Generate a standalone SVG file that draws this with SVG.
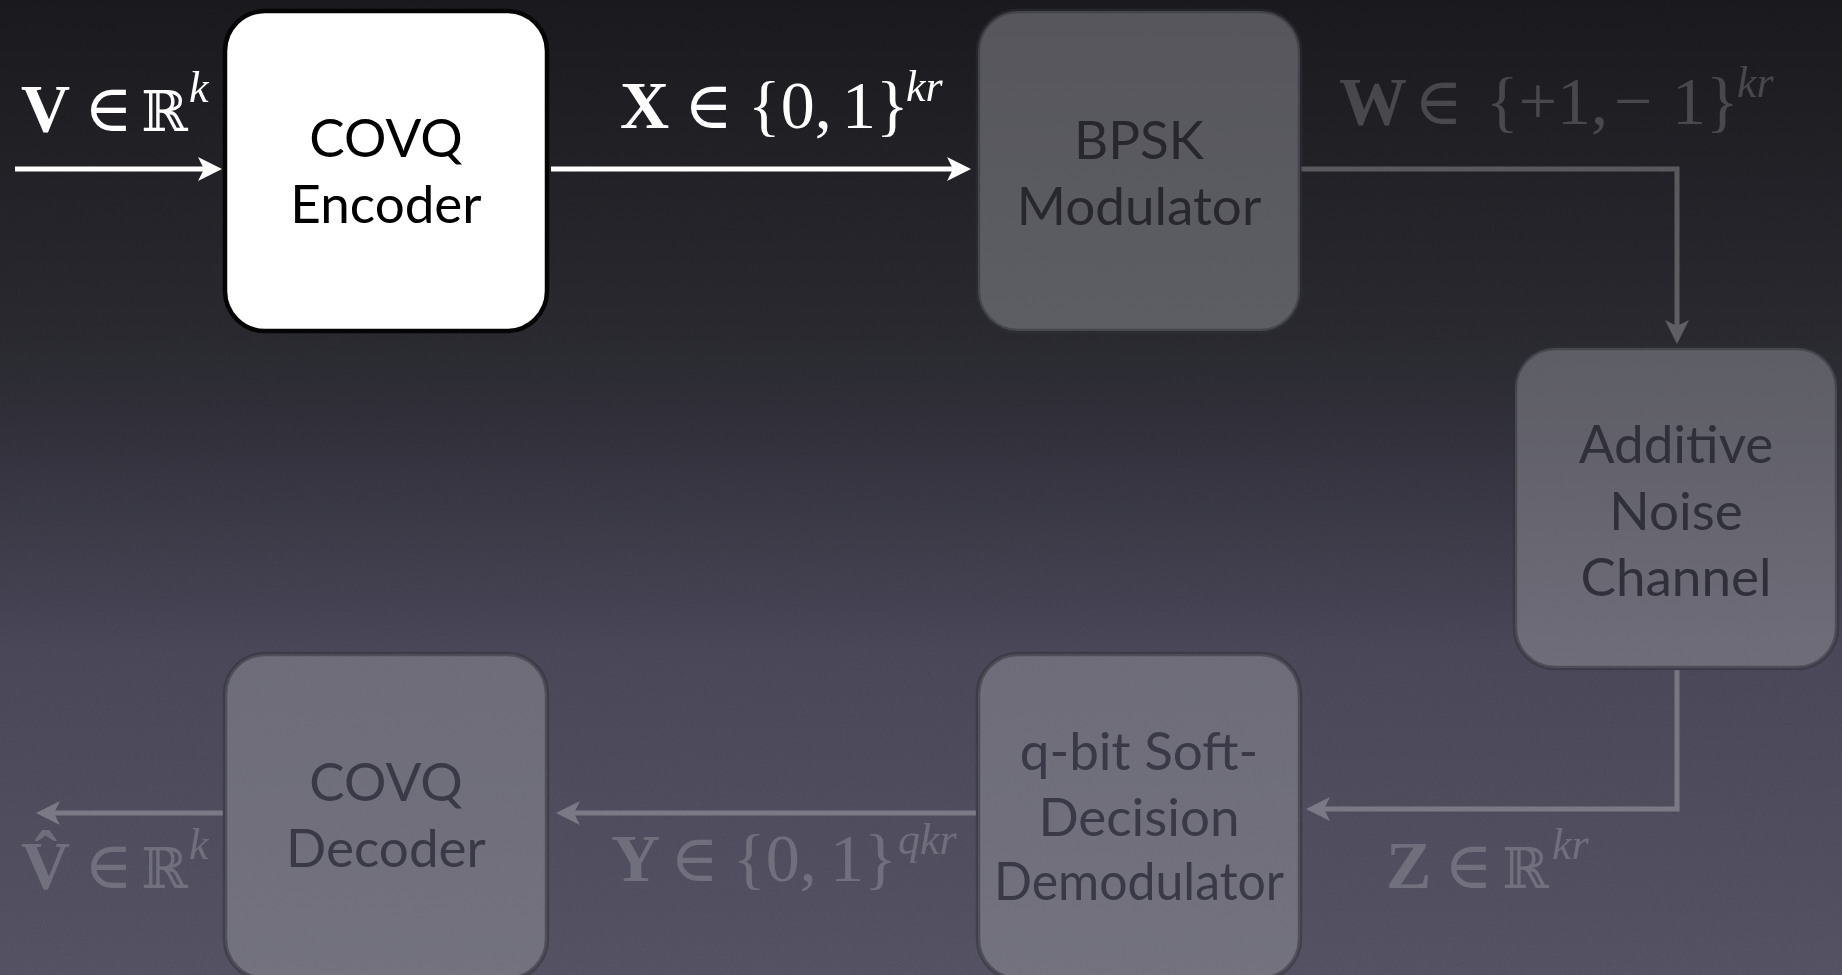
<svg xmlns="http://www.w3.org/2000/svg" width="1842" height="975" viewBox="0 0 1842 975">
  <style>
    .node-text { font-family: "Lato", "Open Sans", sans-serif; font-size: 53px; text-anchor: middle; }
    .math { font-family: "Liberation Serif", "DejaVu Serif", serif; font-size: 68px; }
    .bold { font-weight: bold; }
    .sup { font-style: italic; font-size: 44px; }
    .elem { font-family: "DejaVu Sans", "DejaVu Serif", sans-serif; font-weight: 200; font-size: 66px; }
    .reals { font-family: "DejaVu Serif", serif; font-size: 56px; }
    .box-dim { fill: #929299; fill-opacity: 0.5; stroke: #303038; stroke-opacity: 0.5; stroke-width: 4.5; }
    .wire { fill: none; stroke-width: 5; stroke-linejoin: miter; }
  </style>
  <defs>
    <linearGradient id="bg" x1="0" y1="0" x2="0" y2="1">
      <stop offset="0" stop-color="#18181c"/>
      <stop offset="0.34" stop-color="#26262c"/>
      <stop offset="0.45" stop-color="#2f2e38"/>
      <stop offset="0.67" stop-color="#454353"/>
      <stop offset="1" stop-color="#4f4d5d"/>
    </linearGradient>
    <filter id="grain" x="0" y="0" width="100%" height="100%">
      <feTurbulence type="fractalNoise" baseFrequency="0.55" numOctaves="2" seed="7"/>
      <feColorMatrix type="matrix" values="0.33 0.33 0.33 0 0  0.33 0.33 0.33 0 0  0.33 0.33 0.33 0 0  0 0 0 0 1"/>
    </filter>
    <marker id="head-white" markerUnits="userSpaceOnUse" viewBox="-20 -13 28 26" refX="0" refY="0" markerWidth="28" markerHeight="26" orient="auto">
      <path d="M6,0 L-18,-12 L-12,0 L-18,12 Z" fill="#ffffff"/>
    </marker>
    <marker id="head-dim" markerUnits="userSpaceOnUse" viewBox="-20 -13 28 26" refX="0" refY="0" markerWidth="28" markerHeight="26" orient="auto">
      <path d="M6,0 L-18,-12 L-12,0 L-18,12 Z" fill="#ffffff"/>
    </marker>
  </defs>

  <!-- slide background -->
  <rect x="0" y="0" width="1842" height="975" fill="url(#bg)"/>
  <rect x="0" y="0" width="1842" height="975" filter="url(#grain)" opacity="0.12" style="mix-blend-mode:overlay"/>

  <!-- connectors -->
  <g id="connectors">
    <g id="active-wires" stroke="#ffffff">
      <path class="wire" d="M15,169 H216" marker-end="url(#head-white)"/>
      <path class="wire" d="M551,169 H965" marker-end="url(#head-white)"/>
    </g>
    <g id="dim-wires" stroke="#ffffff" opacity="0.25">
      <path class="wire" d="M1301,169 H1677 V338" marker-end="url(#head-dim)"/>
      <path class="wire" d="M1677,670 V809 H1312" marker-end="url(#head-dim)"/>
      <path class="wire" d="M976,813 H562" marker-end="url(#head-dim)"/>
      <path class="wire" d="M223,813 H42" marker-end="url(#head-dim)"/>
    </g>
  </g>

  <!-- signal labels -->
  <g id="labels">
    <text class="math" fill="#ffffff" y="131">
      <tspan class="bold" x="21">V</tspan><tspan class="elem" x="84">∈</tspan><tspan class="reals" x="141">ℝ</tspan><tspan class="sup" x="189" dy="-29">k</tspan>
    </text>
    <text class="math" fill="#ffffff" y="128">
      <tspan class="bold" x="620">X</tspan><tspan class="elem" x="684">∈</tspan><tspan x="748">{0,</tspan><tspan x="842">1}</tspan><tspan class="sup" x="906" dy="-27">kr</tspan>
    </text>
    <g fill="#ffffff" fill-opacity="0.19">
      <text class="math" y="124">
        <tspan class="bold" x="1339">W</tspan><tspan class="elem" x="1414">∈</tspan><tspan x="1486">{+1,</tspan><tspan x="1614">−</tspan><tspan x="1672">1}</tspan><tspan class="sup" x="1737" dy="-27">kr</tspan>
      </text>
      <text class="math" y="888">
        <tspan class="bold" x="1386">Z</tspan><tspan class="elem" x="1444">∈</tspan><tspan class="reals" x="1502">ℝ</tspan><tspan class="sup" x="1552" dy="-29">kr</tspan>
      </text>
      <text class="math" y="881">
        <tspan class="bold" x="611">Y</tspan><tspan class="elem" x="670">∈</tspan><tspan x="733">{0,</tspan><tspan x="830">1}</tspan><tspan class="sup" x="898" dy="-27">qkr</tspan>
      </text>
      <text class="math" y="888">
        <tspan class="bold" x="21">V̂</tspan><tspan class="elem" x="84">∈</tspan><tspan class="reals" x="141">ℝ</tspan><tspan class="sup" x="189" dy="-29">k</tspan>
      </text>
    </g>
  </g>

  <!-- blocks -->
  <g id="covq-encoder">
    <rect x="225" y="11" width="322" height="320" rx="40" fill="#ffffff" stroke="#050505" stroke-width="4.5"/>
    <text class="node-text" fill="#000000"><tspan x="386" y="157">COVQ</tspan><tspan x="386" y="223">Encoder</tspan></text>
  </g>
  <g id="bpsk-modulator">
    <rect class="box-dim" x="978" y="11" width="322" height="320" rx="40"/>
    <text class="node-text" fill="#27272d"><tspan x="1139" y="159">BPSK</tspan><tspan x="1139" y="225">Modulator</tspan></text>
  </g>
  <g id="additive-noise-channel">
    <rect class="box-dim" x="1515" y="348" width="322" height="320" rx="40"/>
    <text class="node-text" fill="#30303a"><tspan x="1676" y="463">Additive</tspan><tspan x="1676" y="530">Noise</tspan><tspan x="1676" y="596">Channel</tspan></text>
  </g>
  <g id="soft-decision-demodulator">
    <rect class="box-dim" x="978" y="654" width="322" height="325" rx="40"/>
    <text class="node-text" fill="#3a3947"><tspan x="1139" y="770">q-bit Soft-</tspan><tspan x="1139" y="836">Decision</tspan><tspan x="1139" y="900" textLength="290" lengthAdjust="spacingAndGlyphs">Demodulator</tspan></text>
  </g>
  <g id="covq-decoder">
    <rect class="box-dim" x="225" y="654" width="322" height="325" rx="40"/>
    <text class="node-text" fill="#3a3947"><tspan x="386" y="801">COVQ</tspan><tspan x="386" y="867">Decoder</tspan></text>
  </g>
</svg>
